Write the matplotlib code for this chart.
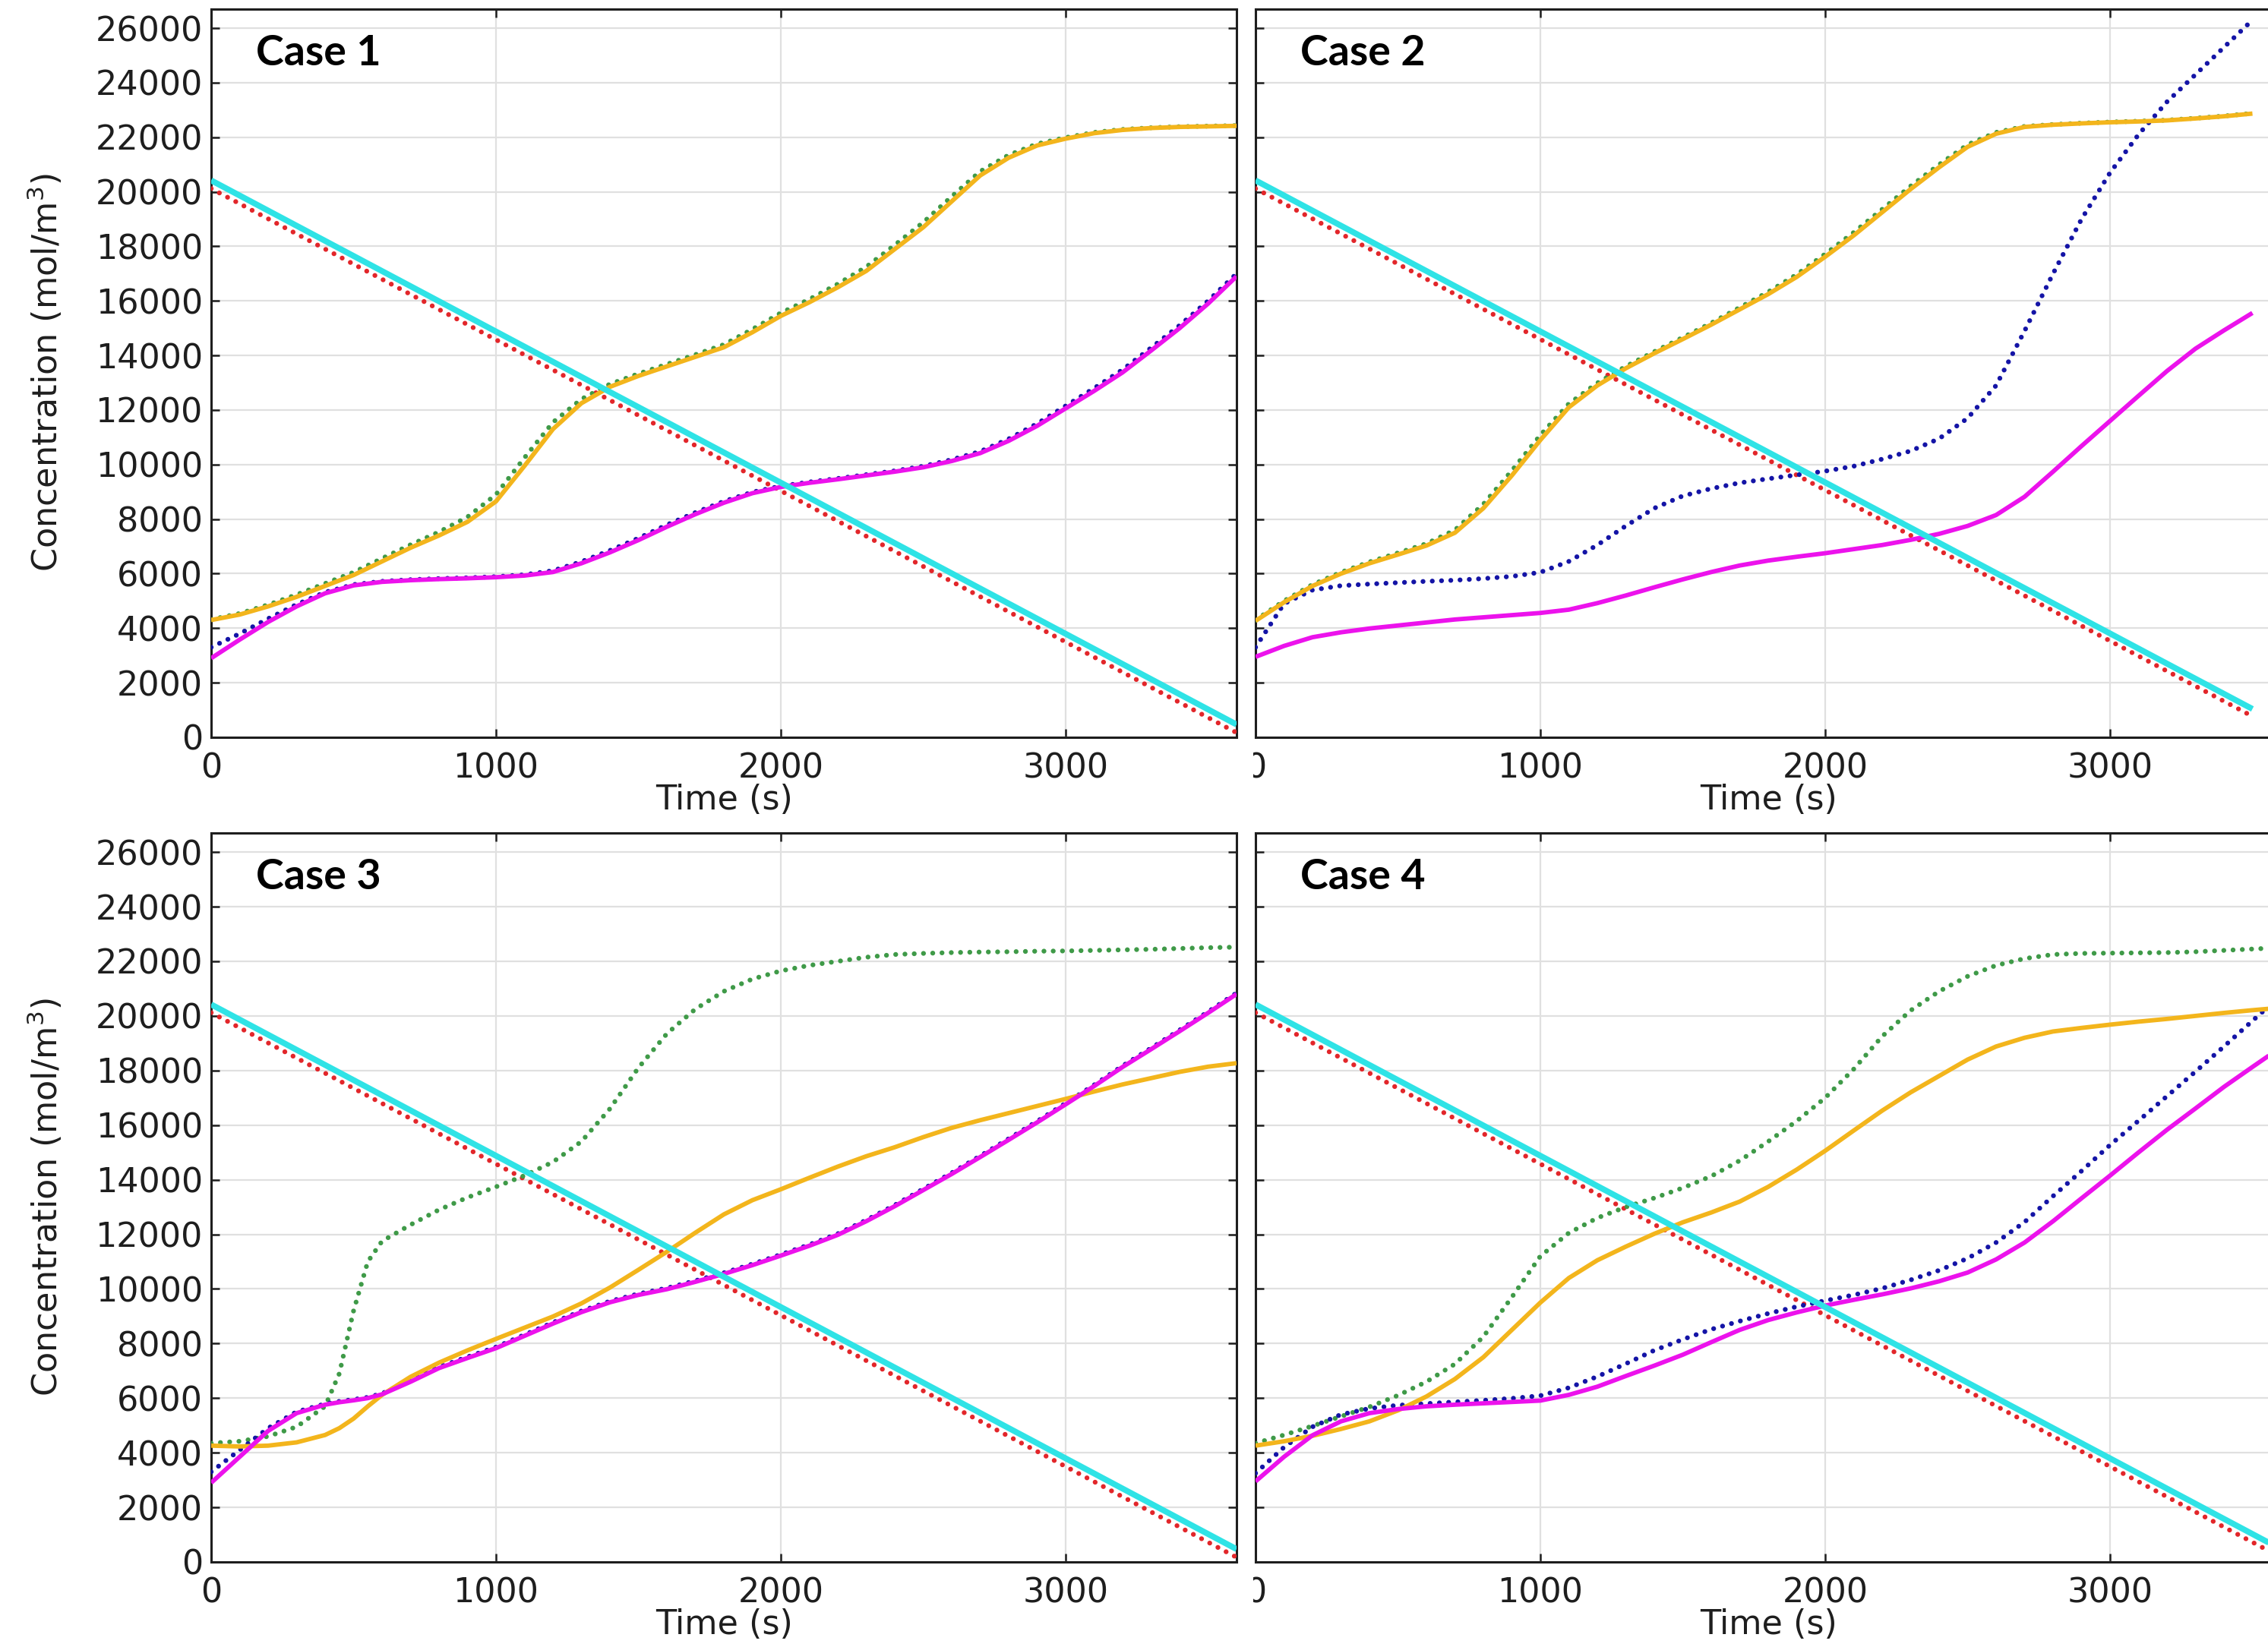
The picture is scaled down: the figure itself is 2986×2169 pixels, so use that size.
import matplotlib
matplotlib.use("Agg")
import matplotlib.pyplot as plt
from matplotlib.patches import Rectangle

# ---- data (time in s, concentration in mol/m3) ----
t_std = [0, 100, 200, 300, 400, 500, 600, 700, 800, 900, 1000, 1100, 1200,
         1300, 1400, 1500, 1600, 1700, 1800, 1900, 2000, 2100, 2200, 2300,
         2400, 2500, 2600, 2700, 2800, 2900, 3000, 3100, 3200, 3300, 3400,
         3500, 3600]
t_c2 = t_std[:-1]
t_c3 = [0, 100, 200, 300, 400, 450, 500, 550, 600, 700, 800, 900, 1000, 1100,
        1200, 1300, 1400, 1500, 1600, 1700, 1800, 1900, 2000, 2100, 2200,
        2300, 2400, 2500, 2600, 2700, 2800, 2900, 3000, 3100, 3200, 3300,
        3400, 3500, 3600]

# straight lines (cyan solid / red dotted)
t_line = [0, 3600]
t_line_c2 = [0, 3500]
cyan_vals = [20420, 470]
red_vals = [20120, 170]
cyan_vals_c2 = [20420, 1040]
red_vals_c2 = [20120, 770]

# Case 1
c1_yellow = [4300, 4500, 4800, 5150, 5550, 5950, 6450, 6950, 7400, 7900, 8650,
             9950, 11300, 12250, 12850, 13250, 13600, 13950, 14300, 14850,
             15450, 15950, 16500, 17100, 17900, 18700, 19650, 20600, 21250,
             21700, 21950, 22150, 22270, 22340, 22380, 22400, 22420]
c1_green = [4320, 4540, 4860, 5230, 5640, 6050, 6560, 7060, 7530, 8080, 8900,
            10250, 11550, 12400, 12950, 13330, 13680, 14030, 14400, 14960,
            15560, 16060, 16620, 17250, 18050, 18880, 19830, 20750, 21350,
            21760, 21990, 22180, 22290, 22350, 22390, 22410, 22430]
c1_magenta = [2900, 3580, 4230, 4800, 5280, 5570, 5700, 5760, 5800, 5830, 5870,
              5930, 6060, 6380, 6780, 7230, 7720, 8180, 8600, 8950, 9180, 9330,
              9460, 9600, 9740, 9900, 10130, 10420, 10870, 11420, 12060, 12700,
              13380, 14180, 15000, 15900, 16900]
c1_blue = [3300, 3800, 4350, 4870, 5320, 5600, 5720, 5780, 5820, 5850, 5890,
           5960, 6110, 6440, 6850, 7300, 7790, 8240, 8650, 8990, 9210, 9360,
           9490, 9630, 9770, 9940, 10180, 10480, 10940, 11500, 12150, 12800,
           13480, 14280, 15100, 16000, 17000]

# Case 2
c2_yellow = [4270, 4950, 5550, 6000, 6380, 6700, 7030, 7500, 8400, 9600, 10900,
             12100, 12900, 13530, 14080, 14600, 15130, 15690, 16250, 16880,
             17620, 18400, 19250, 20100, 20900, 21650, 22130, 22380, 22460,
             22510, 22550, 22580, 22620, 22690, 22770, 22870]
c2_green = [4300, 5000, 5600, 6050, 6430, 6760, 7100, 7600, 8550, 9780, 11080,
            12230, 12990, 13600, 14140, 14660, 15190, 15760, 16330, 16970,
            17720, 18510, 19360, 20210, 21000, 21730, 22180, 22400, 22470,
            22520, 22560, 22590, 22630, 22700, 22780, 22880]
c2_magenta = [2950, 3350, 3670, 3850, 3990, 4100, 4210, 4320, 4400, 4480, 4560,
              4680, 4920, 5200, 5500, 5790, 6060, 6300, 6480, 6620, 6750, 6900,
              7050, 7240, 7460, 7750, 8150, 8820, 9740, 10680, 11600, 12520,
              13430, 14250, 14920, 15560]
c2_blue = [3300, 4900, 5400, 5560, 5620, 5670, 5720, 5760, 5820, 5900, 6050,
           6450, 7050, 7750, 8400, 8850, 9120, 9330, 9480, 9620, 9760, 9940,
           10200, 10500, 10950, 11700, 12900, 14900, 17000, 19000, 20700,
           22100, 23300, 24300, 25300, 26300]

# Case 3
c3_yellow = [4260, 4230, 4260, 4380, 4650, 4900, 5250, 5700, 6120, 6780, 7300,
             7750, 8170, 8580, 8990, 9470, 10050, 10700, 11360, 12060, 12730,
             13250, 13650, 14070, 14480, 14860, 15190, 15560, 15900, 16180,
             16440, 16700, 16960, 17230, 17490, 17720, 17950, 18140, 18270]
c3_green = [4350, 4420, 4600, 4950, 5700, 6900, 9200, 11000, 11750, 12350,
            12900, 13350, 13740, 14150, 14650, 15400, 16600, 18100, 19350,
            20250, 20900, 21350, 21650, 21850, 22000, 22150, 22250, 22290,
            22320, 22340, 22350, 22370, 22380, 22400, 22420, 22440, 22470,
            22500, 22520]
c3_magenta = [2900, 3850, 4800, 5450, 5760, 5850, 5920, 6000, 6140, 6600, 7100,
              7470, 7830, 8280, 8730, 9150, 9510, 9780, 9990, 10260, 10550,
              10870, 11220, 11580, 11980, 12480, 13030, 13620, 14210, 14830,
              15460, 16100, 16760, 17430, 18130, 18780, 19440, 20110, 20800]
c3_blue = [3300, 4100, 4900, 5500, 5790, 5880, 5950, 6030, 6170, 6640, 7140,
           7510, 7870, 8320, 8770, 9190, 9550, 9820, 10030, 10300, 10590,
           10910, 11260, 11620, 12020, 12520, 13070, 13660, 14250, 14870,
           15500, 16140, 16800, 17470, 18170, 18820, 19480, 20150, 20840]

# Case 4
c4_yellow = [4260, 4420, 4620, 4870, 5150, 5550, 6060, 6700, 7500, 8500, 9500,
             10400, 11050, 11550, 12020, 12440, 12800, 13200, 13740, 14370,
             15060, 15800, 16530, 17200, 17800, 18400, 18880, 19200, 19430,
             19560, 19680, 19790, 19890, 20000, 20110, 20210, 20300]
c4_green = [4350, 4650, 4980, 5330, 5680, 6100, 6600, 7250, 8250, 9700, 11200,
            12050, 12600, 13000, 13330, 13700, 14130, 14700, 15400, 16150,
            17000, 18050, 19250, 20200, 20900, 21450, 21850, 22100, 22250,
            22290, 22300, 22310, 22320, 22350, 22400, 22450, 22500]
c4_magenta = [2950, 3850, 4640, 5150, 5450, 5600, 5700, 5760, 5810, 5860, 5910,
              6120, 6420, 6810, 7190, 7590, 8050, 8500, 8860, 9140, 9390, 9600,
              9800, 10020, 10280, 10600, 11080, 11700, 12480, 13320, 14150,
              15000, 15830, 16610, 17400, 18130, 18850]
c4_blue = [3250, 4200, 4950, 5400, 5620, 5740, 5800, 5860, 5920, 5990, 6090,
           6380, 6790, 7260, 7750, 8150, 8520, 8820, 9100, 9350, 9570, 9780,
           10020, 10330, 10680, 11120, 11700, 12450, 13400, 14320, 15270, 16160,
           17060, 17960, 18880, 19820, 20750]

case_names = ["Case 1", "Case 2", "Case 3", "Case 4"]
x_ticks = [0, 1000, 2000, 3000]
y_ticks = [0, 2000, 4000, 6000, 8000, 10000, 12000, 14000, 16000, 18000,
           20000, 22000, 24000, 26000]

# ---- styling ----
CYAN = "#2fe3e6"
RED = "#e2262a"
YELLOW = "#f3b51c"
GREEN = "#3f9a48"
MAGENTA = "#ec12ec"
BLUE = "#1414a6"
TICK_FS = 32
dot = dict(linestyle=(0, (0.01, 1.9)), linewidth=4.6, dash_capstyle="round")
solid = dict(linestyle="-", solid_capstyle="butt", solid_joinstyle="round")

W, H = 2986, 2169
fig = plt.figure(figsize=(W / 100, H / 100), dpi=100)

ax_w = 1350 / W
pos = [
    (278 / W, (H - 971) / H, ax_w, 959 / H),
    (1653 / W, (H - 971) / H, ax_w, 959 / H),
    (278 / W, (H - 2057) / H, ax_w, 960 / H),
    (1653 / W, (H - 2057) / H, ax_w, 960 / H),
]

cases = [
    (t_std, t_line, cyan_vals, red_vals, c1_yellow, c1_green, c1_magenta, c1_blue),
    (t_c2, t_line_c2, cyan_vals_c2, red_vals_c2, c2_yellow, c2_green, c2_magenta, c2_blue),
    (t_c3, t_line, cyan_vals, red_vals, c3_yellow, c3_green, c3_magenta, c3_blue),
    (t_std, t_line, cyan_vals, red_vals, c4_yellow, c4_green, c4_magenta, c4_blue),
]

for i, (t, tl, cy, rd, ye, gr, ma, bl) in enumerate(cases):
    ax = fig.add_axes(pos[i])
    ax.plot(tl, rd, color=RED, zorder=3, **dot)
    ax.plot(t, gr, color=GREEN, zorder=3, **dot)
    ax.plot(t, bl, color=BLUE, zorder=3, **dot)
    ax.plot(t, ye, color=YELLOW, linewidth=4.2, zorder=4, **solid)
    ax.plot(t, ma, color=MAGENTA, linewidth=4.2, zorder=4, **solid)
    ax.plot(tl, cy, color=CYAN, linewidth=5.6, zorder=5, **solid)

    ax.set_xlim(0, 3600)
    ax.set_ylim(0, 26700)
    ax.set_xticks(x_ticks)
    ax.set_yticks(y_ticks)
    ax.grid(True, color="#e0e0e0", linewidth=1.6)
    ax.set_axisbelow(True)
    for s in ax.spines.values():
        s.set_linewidth(2.2)
        s.set_color("#1e1e1e")
    ax.tick_params(direction="in", top=True, right=True, length=8, width=1.8,
                   labelsize=TICK_FS, colors="#1e1e1e")
    ax.tick_params(axis="x", pad=14)
    ax.tick_params(axis="y", pad=8)
    if i % 2 == 1:
        ax.tick_params(labelleft=False)
    ax.set_xlabel("Time (s)", fontsize=TICK_FS, labelpad=-1, color="#1e1e1e")
    ax.text(0.044, 0.94, case_names[i], transform=ax.transAxes,
            fontsize=40, fontweight="bold", family="Lato", va="center",
            ha="left")

for yc in [(H - 491) / H, (H - 1577) / H]:
    fig.text(60 / W, yc, "Concentration (mol/m$^3$)", rotation=90,
             fontsize=TICK_FS, ha="center", va="center", color="#1e1e1e")

# white gap between left and right panels (hides half of the right "0")
fig.patches.append(Rectangle((1634 / W, 0), 16 / W, 1, transform=fig.transFigure,
                             facecolor="white", edgecolor="none", zorder=10))

fig.savefig("out.png", dpi=100)
